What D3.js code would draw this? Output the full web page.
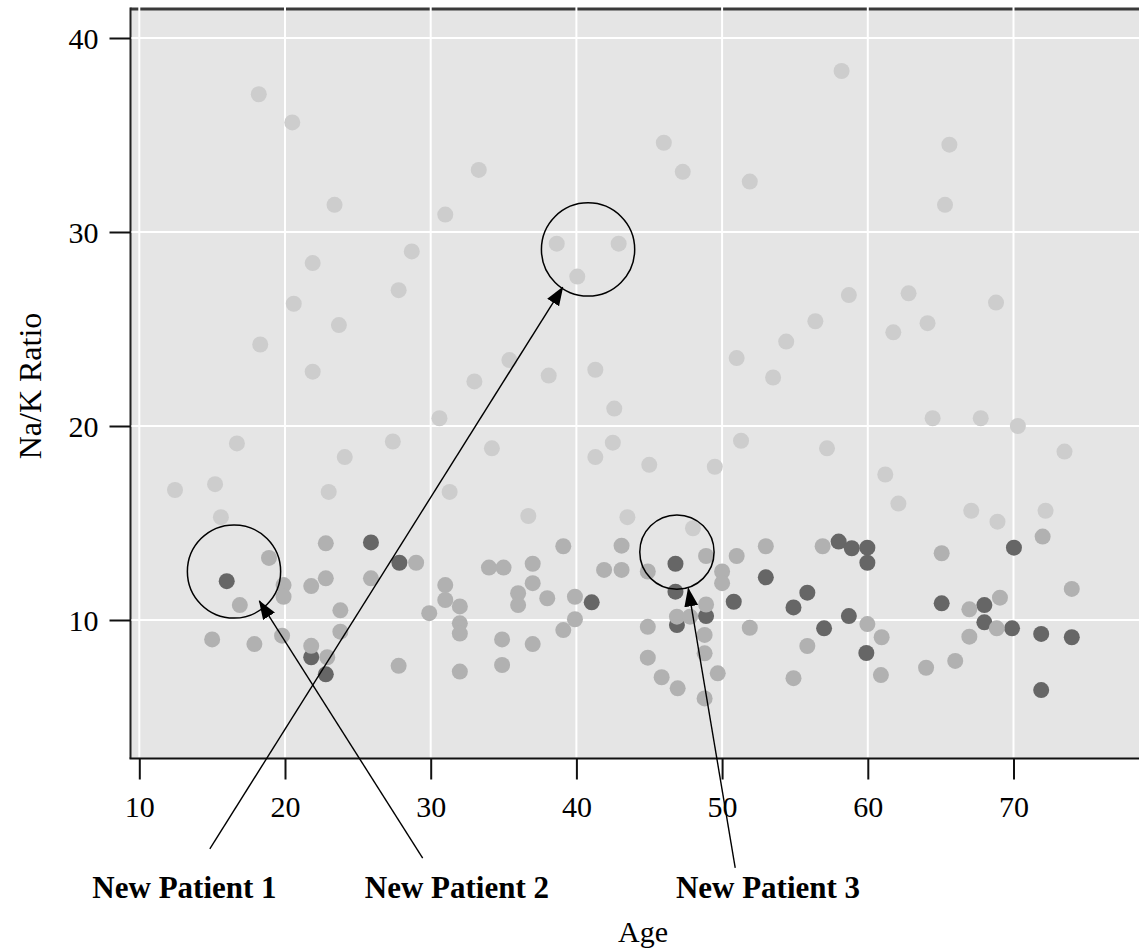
<!DOCTYPE html>
<html>
<head>
<meta charset="utf-8">
<script src="https://cdn.jsdelivr.net/npm/d3@7"></script>
<style>
  html, body { margin: 0; padding: 0; background: #fff; }
  svg { display: block; }
  text { font-family: "Liberation Serif", "Times New Roman", serif; fill: #000; }
</style>
</head>
<body>
<div id="chart"></div>
<script>
// Na/K ratio vs age, three drug groups shown in grey shades
const lightAges = [18.2, 20.5, 23.4, 31.0, 28.7, 21.9, 27.8, 20.6, 23.7, 18.3, 21.9,
    30.6, 27.4, 16.7, 24.1, 12.45, 15.2, 23.0, 31.3, 15.6,
    33.3, 46.0, 47.3, 51.9, 38.65, 42.9, 40.06, 54.4, 51.0, 35.4, 33.0, 38.1, 41.3, 53.5,
    42.6, 34.2, 42.5, 41.3, 45.0, 51.3, 49.5, 36.7, 43.5, 48.0,
    58.2, 65.6, 65.3, 58.7, 56.4, 62.8, 61.75, 64.1, 68.8,
    64.45, 67.75, 70.3, 73.5, 57.2, 61.2, 62.1, 67.1, 68.9, 72.2];
const lightRatios = [37.1, 35.65, 31.4, 30.9, 29.0, 28.4, 27.0, 26.3, 25.2, 24.2, 22.8,
    20.4, 19.2, 19.1, 18.4, 16.7, 17.0, 16.6, 16.6, 15.3,
    33.2, 34.6, 33.1, 32.6, 29.4, 29.4, 27.7, 24.35, 23.5, 23.4, 22.3, 22.6, 22.9, 22.5,
    20.9, 18.85, 19.14, 18.4, 18.0, 19.24, 17.9, 15.36, 15.3, 14.73,
    38.3, 34.5, 31.4, 26.75, 25.4, 26.84, 24.83, 25.3, 26.36,
    20.4, 20.4, 20.0, 18.68, 18.85, 17.5, 16.0, 15.63, 15.07, 15.63];

const mediumAges = [22.8, 18.9, 29.0, 19.9, 19.9, 21.8, 22.8, 25.9, 31.0, 31.0, 32.0, 32.0, 32.0,
    16.9, 29.9, 23.8, 15.0, 17.9, 19.8, 23.8, 21.8, 22.9, 27.8, 32.0,
    39.1, 43.1, 53.0, 51.0, 48.9, 34.0, 35.0, 37.0, 41.9, 43.1, 44.9, 50.0, 50.0, 37.0,
    36.0, 36.0, 38.0, 39.9, 48.9, 46.9, 47.8, 39.9, 39.1, 44.9, 51.9, 48.8, 34.9, 37.0,
    48.8, 44.9, 34.9, 49.7, 45.85, 46.95, 48.8, 54.9,
    72.0, 56.9, 65.07, 74.0, 59.97, 55.85, 60.95, 60.9, 66.97, 69.07, 68.85, 66.97, 66.0, 64.0];
const mediumRatios = [13.95, 13.2, 12.95, 11.8, 11.2, 11.75, 12.15, 12.15, 11.8, 11.03, 10.7, 9.83, 9.3,
    10.77, 10.35, 10.5, 9.0, 8.76, 9.19, 9.4, 8.67, 8.08, 7.64, 7.34,
    13.8, 13.83, 13.8, 13.3, 13.3, 12.7, 12.7, 12.9, 12.58, 12.58, 12.5, 12.5, 11.9, 11.9,
    11.38, 10.77, 11.12, 11.2, 10.8, 10.17, 10.17, 10.04, 9.48, 9.65, 9.6, 9.23, 9.0, 8.76,
    8.28, 8.06, 7.68, 7.25, 7.05, 6.48, 5.96, 7.0,
    14.3, 13.8, 13.44, 11.6, 9.79, 8.66, 9.11, 7.16, 10.55, 11.15, 9.57, 9.14, 7.89, 7.54];

const darkAges = [25.9, 27.85, 16.0, 21.8, 22.8,
    46.8, 53.0, 41.05, 46.8, 50.8, 54.9, 48.9, 46.9,
    58.0, 58.9, 59.97, 59.97, 70.03, 55.85, 58.7, 57.0, 59.9, 65.07, 68.0, 68.0, 69.9, 71.9, 74.0, 71.9];
const darkRatios = [14.0, 12.95, 12.0, 8.08, 7.2,
    12.9, 12.2, 10.91, 11.46, 10.94, 10.65, 10.2, 9.74,
    14.04, 13.7, 13.73, 12.95, 13.73, 11.41, 10.2, 9.57, 8.3, 10.86, 10.77, 9.88, 9.57, 9.28, 9.11, 6.39];

const xTicks = [10, 20, 30, 40, 50, 60, 70];
const yTicks = [10, 20, 30, 40];

// annotations: circles around the new patients, arrows from labels
const patientLabels = ["New Patient 1", "New Patient 2", "New Patient 3"];
const labelAges = [13.1, 31.8, 53.15];
const circleAges = [16.5, 40.8, 46.9];
const circleRatios = [12.5, 29.1, 13.5];
const circleRadii = [3.2, 3.2, 2.55];
const arrowFromAges = [14.84, 29.45, 50.9];
const arrowFromRatios = [-1.8, -2.27, -2.78];
const arrowToAges = [39.06, 18.24, 47.68];
const arrowToRatios = [27.15, 10.98, 11.63];

const width = 1139, height = 949;
const plot = {left: 130.5, right: 1150, top: 9, bottom: 758.5};

const svg = d3.select('#chart').append('svg')
    .attr('width', width)
    .attr('height', height);

const x = d3.scaleLinear().domain([10, 70]).range([139.3, 1013.5]);
const y = d3.scaleLinear().domain([10, 40]).range([620, 38]);

svg.append('defs').append('marker')
    .attr('id', 'head')
    .attr('markerUnits', 'userSpaceOnUse')
    .attr('viewBox', '0 0 19 14')
    .attr('refX', 18)
    .attr('refY', 7)
    .attr('markerWidth', 19)
    .attr('markerHeight', 14)
    .attr('orient', 'auto')
    .append('path')
    .attr('d', 'M0,0L19,7L0,14Z')
    .attr('fill', '#000');

// panel background
svg.append('rect')
    .attr('x', plot.left)
    .attr('y', plot.top)
    .attr('width', plot.right - plot.left)
    .attr('height', plot.bottom - plot.top)
    .attr('fill', '#e5e5e5');

// top and left border, gridlines go over it
svg.append('line')
    .attr('x1', plot.left).attr('x2', plot.right)
    .attr('y1', plot.top).attr('y2', plot.top)
    .attr('stroke', '#3a3a3a').attr('stroke-width', 3);
svg.append('line')
    .attr('x1', plot.left).attr('x2', plot.left)
    .attr('y1', plot.top - 1.5).attr('y2', plot.bottom)
    .attr('stroke', '#222').attr('stroke-width', 2);

const grid = svg.append('g').attr('stroke', '#fff').attr('stroke-width', 2);
grid.selectAll('.vx').data(xTicks).enter().append('line')
    .attr('x1', d => x(d)).attr('x2', d => x(d))
    .attr('y1', plot.top - 2).attr('y2', plot.bottom - 1);
grid.selectAll('.hy').data(yTicks).enter().append('line')
    .attr('x1', plot.left + 1).attr('x2', plot.right)
    .attr('y1', d => y(d)).attr('y2', d => y(d));

// points
const groups = [
    {ages: lightAges, ratios: lightRatios, color: '#cdcdcd'},
    {ages: darkAges, ratios: darkRatios, color: '#666666'},
    {ages: mediumAges, ratios: mediumRatios, color: '#b1b1b1'}
];
groups.forEach(g => {
    svg.append('g').selectAll('circle')
        .data(d3.range(g.ages.length))
        .enter().append('circle')
        .attr('cx', i => x(g.ages[i]))
        .attr('cy', i => y(g.ratios[i]))
        .attr('r', 8)
        .attr('fill', g.color);
});

// axes
const yAxis = svg.append('g')
    .attr('transform', `translate(${plot.left},0)`)
    .call(d3.axisLeft(y).tickValues(yTicks).tickSize(21).tickPadding(11).tickSizeOuter(0));
yAxis.select('.domain').remove();
yAxis.selectAll('line').attr('stroke', '#111').attr('stroke-width', 2);
yAxis.selectAll('text').attr('font-size', 30).attr('font-family', null).attr('dy', '0.36em');

const xAxis = svg.append('g')
    .attr('transform', `translate(0,${plot.bottom})`)
    .call(d3.axisBottom(x).tickValues(xTicks).tickSize(21).tickPadding(16).tickSizeOuter(0));
xAxis.select('.domain').remove();
xAxis.selectAll('line').attr('stroke', '#111').attr('stroke-width', 2);
xAxis.selectAll('text').attr('font-size', 30).attr('font-family', null);

svg.append('line')
    .attr('x1', plot.left - 1).attr('x2', plot.right)
    .attr('y1', plot.bottom).attr('y2', plot.bottom)
    .attr('stroke', '#111').attr('stroke-width', 2);

// axis titles
svg.append('text')
    .attr('x', 643).attr('y', 942)
    .attr('text-anchor', 'middle')
    .attr('font-size', 30)
    .text('Age');
svg.append('text')
    .attr('transform', 'translate(41,386) rotate(-90)')
    .attr('text-anchor', 'middle')
    .attr('font-size', 32)
    .text('Na/K Ratio');

// annotations
const ann = svg.append('g').attr('fill', 'none').attr('stroke', '#000');
ann.selectAll('circle').data(d3.range(3)).enter().append('circle')
    .attr('cx', i => x(circleAges[i]))
    .attr('cy', i => y(circleRatios[i]))
    .attr('r', i => x(circleAges[i] + circleRadii[i]) - x(circleAges[i]))
    .attr('stroke-width', 1.5);
ann.selectAll('line').data(d3.range(3)).enter().append('line')
    .attr('x1', i => x(arrowFromAges[i]))
    .attr('y1', i => y(arrowFromRatios[i]))
    .attr('x2', i => x(arrowToAges[i]))
    .attr('y2', i => y(arrowToRatios[i]))
    .attr('stroke-width', 1.4)
    .attr('marker-end', 'url(#head)');

svg.append('g').selectAll('text').data(patientLabels).enter().append('text')
    .attr('x', (d, i) => x(labelAges[i]))
    .attr('y', 898)
    .attr('text-anchor', 'middle')
    .attr('font-size', 31)
    .attr('font-weight', 'bold')
    .text(d => d);
</script>
</body>
</html>
